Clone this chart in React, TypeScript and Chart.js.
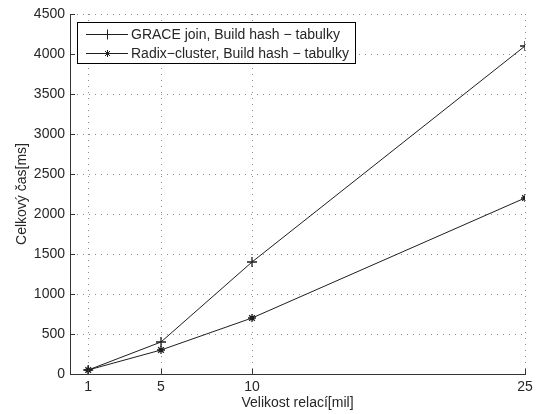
import React, { useEffect, useRef } from "react";
import { Chart, registerables } from "chart.js";

Chart.register(...registerables);

const xValues = [1, 5, 10, 25];
const xTicks = [1, 5, 10, 25];
const graceValues = [50, 400, 1400, 4100];
const radixValues = [50, 300, 700, 2200];
const seriesLabels = ["GRACE join, Build hash \u2212 tabulky", "Radix\u2212cluster, Build hash \u2212 tabulky"];
const xTitle = "Velikost relací[mil]";
const yTitle = "Celkový čas[ms]";

const FONT = "'Liberation Sans', Arial, Helvetica, sans-serif";
const LINE = "#1e1e1e";
const TEXT = "#262626";

function drawMarker(ctx: CanvasRenderingContext2D, kind: string, x: number, y: number, r: number) {
  ctx.beginPath();
  ctx.moveTo(x - r, y);
  ctx.lineTo(x + r, y);
  ctx.moveTo(x, y - r);
  ctx.lineTo(x, y + r);
  if (kind === "star") {
    const d = r * 0.7071;
    ctx.moveTo(x - d, y - d);
    ctx.lineTo(x + d, y + d);
    ctx.moveTo(x - d, y + d);
    ctx.lineTo(x + d, y - d);
  }
  ctx.stroke();
}

const overlayPlugin = {
  id: "overlay",
  afterDraw(chart: any) {
    const ctx: CanvasRenderingContext2D = chart.ctx;
    const { left, top, bottom } = chart.chartArea;
    const xs = chart.scales.x;
    const ys = chart.scales.y;
    ctx.save();
    ctx.strokeStyle = "#333";
    ctx.lineWidth = 1;
    ys.ticks.forEach((t: any) => {
      const y = Math.round(ys.getPixelForValue(t.value)) + 0.5;
      ctx.beginPath();
      ctx.moveTo(left, y);
      ctx.lineTo(left + 5, y);
      ctx.stroke();
    });
    xs.ticks.forEach((t: any) => {
      const x = Math.round(xs.getPixelForValue(t.value)) + 0.5;
      ctx.beginPath();
      ctx.moveTo(x, bottom);
      ctx.lineTo(x, bottom - 5);
      ctx.stroke();
    });
    // legend
    const lx = Math.round(left) + 7;
    const ly = Math.round(top) + 8;
    const lw = 278;
    const lh = 41;
    ctx.fillStyle = "#fff";
    ctx.fillRect(lx, ly, lw, lh);
    ctx.strokeStyle = "#000";
    ctx.strokeRect(lx + 0.5, ly + 0.5, lw, lh);
    const kinds = ["cross", "star"];
    const rowsY = [ly + 12.5, ly + 31.5];
    ctx.font = `14px ${FONT}`;
    ctx.textBaseline = "middle";
    ctx.textAlign = "left";
    seriesLabels.forEach((lab, i) => {
      const y = rowsY[i];
      ctx.strokeStyle = LINE;
      ctx.beginPath();
      ctx.moveTo(lx + 9, y);
      ctx.lineTo(lx + 51, y);
      ctx.stroke();
      drawMarker(ctx, kinds[i], lx + 30.5, y, kinds[i] === "star" ? 3.5 : 5);
      ctx.fillStyle = TEXT;
      ctx.fillText(lab, lx + 54, y + 0.5);
    });
    ctx.restore();
  },
};

export default function App() {
  const ref = useRef<HTMLCanvasElement>(null);
  useEffect(() => {
    if (!ref.current) return;
    const chart = new Chart(ref.current, {
      type: "line",
      data: {
        datasets: [
          {
            label: seriesLabels[0],
            data: xValues.map((x, i) => ({ x, y: graceValues[i] })),
            borderColor: LINE,
            backgroundColor: LINE,
            borderWidth: 1,
            pointStyle: "cross",
            pointRadius: 5,
            pointBorderWidth: 1.3,
            pointBorderColor: LINE,
            tension: 0,
            fill: false,
          },
          {
            label: seriesLabels[1],
            data: xValues.map((x, i) => ({ x, y: radixValues[i] })),
            borderColor: LINE,
            backgroundColor: LINE,
            borderWidth: 1,
            pointStyle: "star",
            pointRadius: 4,
            pointBorderWidth: 1.3,
            pointBorderColor: LINE,
            tension: 0,
            fill: false,
          },
        ],
      },
      options: {
        responsive: false,
        animation: false,
        layout: { padding: { left: 0, top: 14, right: 13, bottom: 0 } },
        plugins: { legend: { display: false }, tooltip: { enabled: false } },
        scales: {
          x: {
            type: "linear",
            min: 0,
            max: 25,
            afterBuildTicks: (scale: any) => {
              scale.ticks = xTicks.map((v) => ({ value: v }));
            },
            afterFit: (scale: any) => {
              scale.height = 40;
            },
            grid: { color: "#8c8c8c", drawTicks: false, lineWidth: 1 },
            border: { display: true, color: "#333", width: 1, dash: [1, 5] },
            ticks: {
              padding: 5,
              color: TEXT,
              font: { family: FONT, size: 14 },
              maxRotation: 0,
              callback: (v: any) => String(v),
            },
            title: {
              display: true,
              text: xTitle,
              color: TEXT,
              font: { family: FONT, size: 14 },
              padding: { top: 0, bottom: 2 },
            },
          },
          y: {
            type: "linear",
            min: 0,
            max: 4500,
            afterFit: (scale: any) => {
              scale.width = 70;
            },
            grid: { color: "#8c8c8c", drawTicks: false, lineWidth: 1 },
            border: { display: true, color: "#333", width: 1, dash: [1, 5] },
            ticks: {
              stepSize: 500,
              padding: 5,
              color: TEXT,
              font: { family: FONT, size: 14 },
              callback: (v: any) => String(v),
            },
            title: {
              display: true,
              text: yTitle,
              color: TEXT,
              font: { family: FONT, size: 14 },
              padding: { top: 14, bottom: 0 },
            },
          },
        },
      },
      plugins: [overlayPlugin],
    } as any);
    return () => chart.destroy();
  }, []);
  return (
    <div style={{ position: "absolute", left: 0, top: 0, width: 538, height: 414, background: "#fff" }}>
      <canvas ref={ref} width={538} height={414} style={{ width: 538, height: 414 }} />
    </div>
  );
}
